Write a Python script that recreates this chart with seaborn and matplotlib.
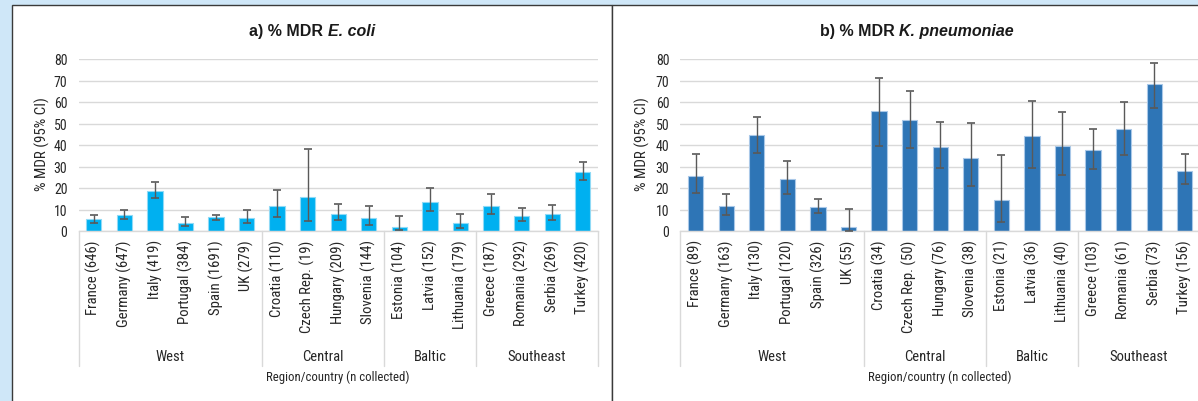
import matplotlib
matplotlib.use("Agg")
import matplotlib.pyplot as plt
from matplotlib import font_manager
from matplotlib.patches import Rectangle
import seaborn as sns
import pandas as pd

# ---- data -------------------------------------------------------------
regions = ["West"] * 6 + ["Central"] * 4 + ["Baltic"] * 3 + ["Southeast"] * 4
region_names = ["West", "Central", "Baltic", "Southeast"]

ecoli_labels = ["France (646)", "Germany (647)", "Italy (419)", "Portugal (384)",
                "Spain (1691)", "UK (279)", "Croatia (110)", "Czech Rep. (19)",
                "Hungary (209)", "Slovenia (144)", "Estonia (104)", "Latvia (152)",
                "Lithuania (179)", "Greece (187)", "Romania (292)", "Serbia (269)",
                "Turkey (420)"]
ecoli_pct = [5.5, 7.5, 18.6, 3.9, 6.3, 6.1, 11.5, 15.8, 7.8, 5.9, 1.9, 13.7, 3.6,
             11.6, 6.9, 7.8, 27.5]
ecoli_lo = [3.9, 5.6, 15.4, 2.4, 5.2, 3.9, 6.5, 4.5, 4.9, 3.0, 0.3, 9.1, 1.6,
            7.7, 4.5, 5.3, 23.6]
ecoli_hi = [7.5, 9.9, 22.9, 6.6, 7.5, 9.8, 19.2, 38.3, 12.6, 11.4, 7.0, 20.1, 7.8,
            17.2, 10.6, 12.1, 32.1]

kpn_labels = ["France (89)", "Germany (163)", "Italy (130)", "Portugal (120)",
              "Spain (326)", "UK (55)", "Croatia (34)", "Czech Rep. (50)",
              "Hungary (76)", "Slovenia (38)", "Estonia (21)", "Latvia (36)",
              "Lithuania (40)", "Greece (103)", "Romania (61)", "Serbia (73)",
              "Turkey (156)"]
kpn_pct = [25.6, 11.5, 44.5, 24.0, 11.2, 1.8, 55.9, 51.8, 39.2, 34.1, 14.3, 44.3,
           39.7, 37.7, 47.3, 68.5, 27.9]
kpn_lo = [17.5, 7.3, 36.1, 17.2, 8.2, 0.1, 39.4, 38.5, 29.2, 21.1, 4.0, 29.4,
          26.2, 29.0, 35.5, 57.1, 21.7]
kpn_hi = [35.8, 17.4, 53.2, 32.6, 15.0, 10.4, 71.2, 65.1, 50.7, 50.2, 35.3, 60.3,
          55.5, 47.4, 59.9, 78.0, 35.7]

y_ticks = [0, 10, 20, 30, 40, 50, 60, 70, 80]

# ---- style ------------------------------------------------------------
sns.set_theme(style="white")


def pick_font(names):
    for n in names:
        try:
            font_manager.findfont(n, fallback_to_default=False)
            return n
        except Exception:
            continue
    return "DejaVu Sans"


FONT = pick_font(["Liberation Sans Narrow", "Roboto Condensed", "Liberation Sans",
                  "Arial"])
TITLE_FONT = pick_font(["Liberation Sans", "Arial", FONT])
CONDENSED = FONT in ("Liberation Sans Narrow", "Roboto Condensed")
plt.rcParams["font.family"] = [FONT, "DejaVu Sans"]

# sizes tuned for a condensed face; a regular-width face needs smaller text
S_CAT = 10.6 if CONDENSED else 9.5
S_REG = 10.5 if CONDENSED else 9.5
S_AXL = 10.8 if CONDENSED else 8.5
S_XL = 9.2 if CONDENSED else 8.5
S_TICK = 10.0 if CONDENSED else 8.5

W, H = 1198, 402
fig = plt.figure(figsize=(W / 100, H / 100), dpi=100)
fig.patch.set_facecolor("#cfe7f8")


def fx(px):
    return px / W


def fy(py):
    return 1 - py / H


# white panel boxes
for x0, x1 in [(12, 612), (612, 1240)]:
    fig.add_artist(Rectangle((fx(x0), fy(420)), fx(x1 - x0), (420 - 6) / H,
                             transform=fig.transFigure, facecolor="white",
                             edgecolor="#3a3a3a", linewidth=1.0, zorder=0))

GRID = "#d9d9d9"
ERR = "#595959"
TXT = "#262626"

panels = [
    dict(left=78.5, right=598.0, box=(12, 612), title_a="a) % MDR ", title_b="E. coli",
         labels=ecoli_labels, pct=ecoli_pct, lo=ecoli_lo, hi=ecoli_hi,
         color="#00b0f0", edge="#8fdaf6", ylab_x=42),
    dict(left=680.4, right=1200.0, box=(612, 1222), title_a="b) % MDR ",
         title_b="K. pneumoniae", labels=kpn_labels, pct=kpn_pct, lo=kpn_lo,
         hi=kpn_hi, color="#2e75b6", edge="#a9c8e8", ylab_x=642),
]

y_top, y_bot = 60.0, 232.0
renderer = fig.canvas.get_renderer()

for p in panels:
    ax = fig.add_axes([fx(p["left"]), fy(y_bot), fx(p["right"] - p["left"]),
                       (y_bot - y_top) / H])
    ax.set_facecolor("none")
    df = pd.DataFrame({"country": p["labels"], "pct": p["pct"], "region": regions})
    sns.barplot(data=df, x="country", y="pct", color=p["color"], width=0.5,
                errorbar=None, saturation=1, edgecolor=p["edge"], linewidth=0.8,
                ax=ax, zorder=2)
    xs = list(range(len(df)))
    yerr = [[v - l for v, l in zip(p["pct"], p["lo"])],
            [h - v for v, h in zip(p["pct"], p["hi"])]]
    ax.errorbar(xs, p["pct"], yerr=yerr, fmt="none", ecolor=ERR, elinewidth=1.0,
                capsize=3, capthick=1.2, zorder=3)

    ax.set_ylim(0, 80)
    ax.set_xlim(-0.5, len(df) - 0.5)
    ax.set_yticks(y_ticks)
    ax.yaxis.grid(True, color=GRID, linewidth=1.0, zorder=0)
    ax.set_axisbelow(True)
    for s in ["left", "right", "top"]:
        ax.spines[s].set_visible(False)
    ax.spines["bottom"].set_color(GRID)
    ax.spines["bottom"].set_linewidth(1.0)
    ax.tick_params(axis="y", length=0, pad=8, labelsize=S_TICK, labelcolor=TXT)
    ax.tick_params(axis="x", length=0, pad=6, labelsize=S_CAT, labelcolor=TXT)
    ax.set_xticks(xs)
    ax.set_xticklabels(p["labels"], rotation=90, ha="center", va="top")
    ax.set_xlabel("")
    ax.set_ylabel("")
    fig.text(fx(p["ylab_x"]), fy(144), "% MDR (95% CI)", rotation=90,
             ha="center", va="center", fontsize=S_AXL, color=TXT)

    # region separators and group names under the country labels
    tr = ax.get_xaxis_transform()
    h_ax = y_bot - y_top
    sep_bottom = -(366.7 - y_bot) / h_ax
    bounds = [-0.5]
    for i in range(1, len(regions)):
        if regions[i] != regions[i - 1]:
            bounds.append(i - 0.5)
    bounds.append(len(regions) - 0.5)
    for b in bounds:
        ax.plot([b, b], [0, sep_bottom], transform=tr, color=GRID, linewidth=1.0,
                clip_on=False, zorder=1)
    for name, b0, b1 in zip(region_names, bounds[:-1], bounds[1:]):
        ax.text((b0 + b1) / 2, -(356.7 - y_bot) / h_ax, name, transform=tr,
                ha="center", va="center", fontsize=S_REG, color=TXT)
    ax.text(0.5, -(377.0 - y_bot) / h_ax, "Region/country (n collected)",
            transform=ax.transAxes, ha="center", va="center", fontsize=S_XL,
            color=TXT)

    # panel title: bold label followed by bold-italic organism name
    cx = (p["box"][0] + p["box"][1]) / 2
    ta = fig.text(0, fy(31.5), p["title_a"], fontsize=11.5, fontweight="bold",
                  family=[TITLE_FONT, "DejaVu Sans"], ha="left", va="center",
                  color="#1a1a1a")
    tb = fig.text(0, fy(31.5), p["title_b"], fontsize=11.5, fontweight="bold",
                  fontstyle="italic", family=[TITLE_FONT, "DejaVu Sans"],
                  ha="left", va="center", color="#1a1a1a")
    wa = ta.get_window_extent(renderer).width
    wb = tb.get_window_extent(renderer).width
    start = cx - (wa + wb) / 2
    ta.set_x(fx(start))
    tb.set_x(fx(start + wa))

fig.savefig("out.png", dpi=100, facecolor=fig.get_facecolor())
